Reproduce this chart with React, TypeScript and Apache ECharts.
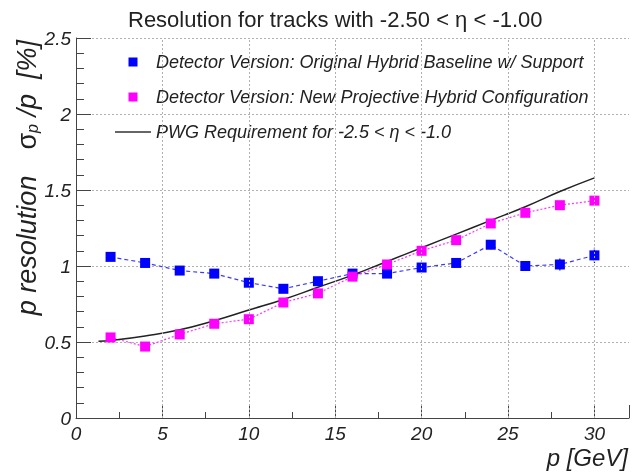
import React, { useEffect, useRef } from "react";
import * as echarts from "echarts";

const momenta = [2, 4, 6, 8, 10, 12, 14, 16, 18, 20, 22, 24, 26, 28, 30];
const originalHybrid = [1.06, 1.02, 0.97, 0.95, 0.89, 0.85, 0.9, 0.95, 0.95, 0.99, 1.02, 1.14, 1.0, 1.01, 1.07];
const originalHybridErr = [0.01, 0.01, 0.01, 0.01, 0.01, 0.01, 0.01, 0.01, 0.01, 0.01, 0.015, 0.03, 0.03, 0.04, 0.05];
const projectiveHybrid = [0.53, 0.47, 0.55, 0.62, 0.65, 0.76, 0.82, 0.93, 1.01, 1.1, 1.17, 1.28, 1.35, 1.4, 1.43];
const pwgMomenta = [1.3, 2, 4, 6, 8, 10, 12, 14, 16, 18, 20, 22, 24, 26, 28, 30];
const pwgRequirement = [0.505, 0.51, 0.54, 0.58, 0.64, 0.71, 0.78, 0.86, 0.94, 1.03, 1.12, 1.21, 1.3, 1.39, 1.49, 1.58];
const xGridValues = [5, 10, 15, 20, 25, 30];
const xLastLabel = 30;

const seriesNames = [
  "Detector Version: Original Hybrid Baseline w/ Support",
  "Detector Version: New Projective Hybrid Configuration",
  "PWG Requirement for -2.5 < \u03b7 < -1.0",
];

const FONT = "'Liberation Sans', Arial, Helvetica, sans-serif";

export default function App() {
  const ref = useRef<HTMLDivElement>(null);
  useEffect(() => {
    if (!ref.current) return;
    const chart = echarts.init(ref.current, null, { renderer: "svg" });
    const gridColor = "#b0b0b0";
    const axisColor = "#444";
    chart.setOption({
      animation: false,
      grid: { left: 76, top: 38, right: 1, bottom: 57 },
      title: {
        text: "Resolution for tracks with -2.50 < \u03b7 < -1.00",
        left: 128,
        top: 8,
        padding: 0,
        textStyle: { fontFamily: FONT, fontSize: 22, fontWeight: "normal", color: "#222" },
      },
      legend: {
        orient: "vertical",
        left: 115,
        top: 52,
        itemWidth: 36,
        itemHeight: 9,
        itemGap: 15,
        padding: 0,
        textStyle: { fontFamily: FONT, fontSize: 18, lineHeight: 20, fontStyle: "italic", color: "#222" },
        data: [
          { name: seriesNames[0], icon: "path://M0,0H10V10H0Z", itemStyle: { color: "#0000ff" } },
          { name: seriesNames[1], icon: "path://M0,0H10V10H0Z", itemStyle: { color: "#ff00ff" } },
          { name: seriesNames[2], icon: "path://M0,0H36V1.3H0Z", itemStyle: { color: "#333" } },
        ],
      },
      xAxis: {
        type: "value",
        min: 0,
        max: 32,
        interval: 5,
        axisLine: { lineStyle: { color: axisColor, width: 1 } },
        axisTick: { show: true, inside: true, length: 13, lineStyle: { color: axisColor, width: 1 } },
        minorTick: { show: true, splitNumber: 2, length: 6, lineStyle: { color: axisColor, width: 1 } },
        axisLabel: {
          formatter: (v: number) => (v > xLastLabel ? "" : String(v)),
          fontFamily: FONT,
          fontSize: 19,
          fontStyle: "italic",
          color: "#222",
          margin: 6,
        },
        splitLine: { show: false },
      },
      yAxis: {
        type: "value",
        min: 0,
        max: 2.5,
        interval: 0.5,
        axisLine: { show: true, lineStyle: { color: axisColor, width: 1 } },
        axisTick: { show: true, inside: true, length: 15, lineStyle: { color: axisColor, width: 1 } },
        minorTick: { show: true, splitNumber: 5, length: 8, lineStyle: { color: axisColor, width: 1 } },
        axisLabel: { fontFamily: FONT, fontSize: 19, fontStyle: "italic", color: "#222", margin: 5 },
        splitLine: { show: true, lineStyle: { color: gridColor, type: [2, 2], width: 1 } },
      },
      graphic: [
        {
          type: "text",
          x: 27,
          y: 40,
          rotation: Math.PI / 2,
          style: {
            text: "{i|p resolution}{gap|}{s|\u03c3}{sub|p}{i| /p  [%]}",
            align: "right",
            verticalAlign: "middle",
            fill: "#222",
            rich: {
              i: { fontFamily: FONT, fontSize: 27, fontStyle: "italic", fill: "#222" },
              gap: { width: 26 },
              s: { fontFamily: FONT, fontSize: 27, fill: "#222" },
              sub: { fontFamily: FONT, fontSize: 16, fontStyle: "italic", fill: "#222", verticalAlign: "bottom", padding: [10, 0, 0, 0] },
            },
          },
        },
        {
          type: "text",
          x: 628,
          y: 457,
          style: {
            text: "p [GeV]",
            align: "right",
            verticalAlign: "middle",
            fontFamily: FONT,
            fontSize: 24,
            fontStyle: "italic",
            fill: "#222",
          },
        },
      ],
      series: [
        {
          name: "errOrig",
          type: "custom",
          data: momenta.map((p, i) => [p, originalHybrid[i] - originalHybridErr[i], originalHybrid[i] + originalHybridErr[i]]),
          encode: { x: 0, y: [1, 2] },
          renderItem: (_params: any, api: any) => {
            const a = api.coord([api.value(0), api.value(1)]);
            const b = api.coord([api.value(0), api.value(2)]);
            return {
              type: "line",
              shape: { x1: a[0], y1: a[1], x2: b[0], y2: b[1] },
              style: { stroke: "#0000ff", lineWidth: 1.2 },
            };
          },
        },
        {
          name: seriesNames[0],
          type: "line",
          data: momenta.map((p, i) => [p, originalHybrid[i]]),
          symbol: "rect",
          symbolSize: 10,
          itemStyle: { color: "#0000ff" },
          lineStyle: { color: "#3a3aff", width: 1.2, type: [4, 3] },
          markLine: {
            symbol: "none",
            label: { show: false },
            lineStyle: { color: gridColor, type: [2, 2], width: 1 },
            data: xGridValues.map((v) => ({ xAxis: v })),
          },
        },
        {
          name: seriesNames[1],
          type: "line",
          data: momenta.map((p, i) => [p, projectiveHybrid[i]]),
          symbol: "rect",
          symbolSize: 10,
          itemStyle: { color: "#ff00ff" },
          lineStyle: { color: "#ff33ff", width: 1.2, type: [2, 2] },
        },
        {
          name: seriesNames[2],
          type: "line",
          data: pwgMomenta.map((p, i) => [p, pwgRequirement[i]]),
          smooth: true,
          showSymbol: false,
          symbol: "none",
          itemStyle: { color: "#222" },
          lineStyle: { color: "#222", width: 1.5 },
        },
      ],
    });
    return () => chart.dispose();
  }, []);
  return <div ref={ref} style={{ position: "fixed", left: 0, top: 0, width: 632, height: 475 }} />;
}
